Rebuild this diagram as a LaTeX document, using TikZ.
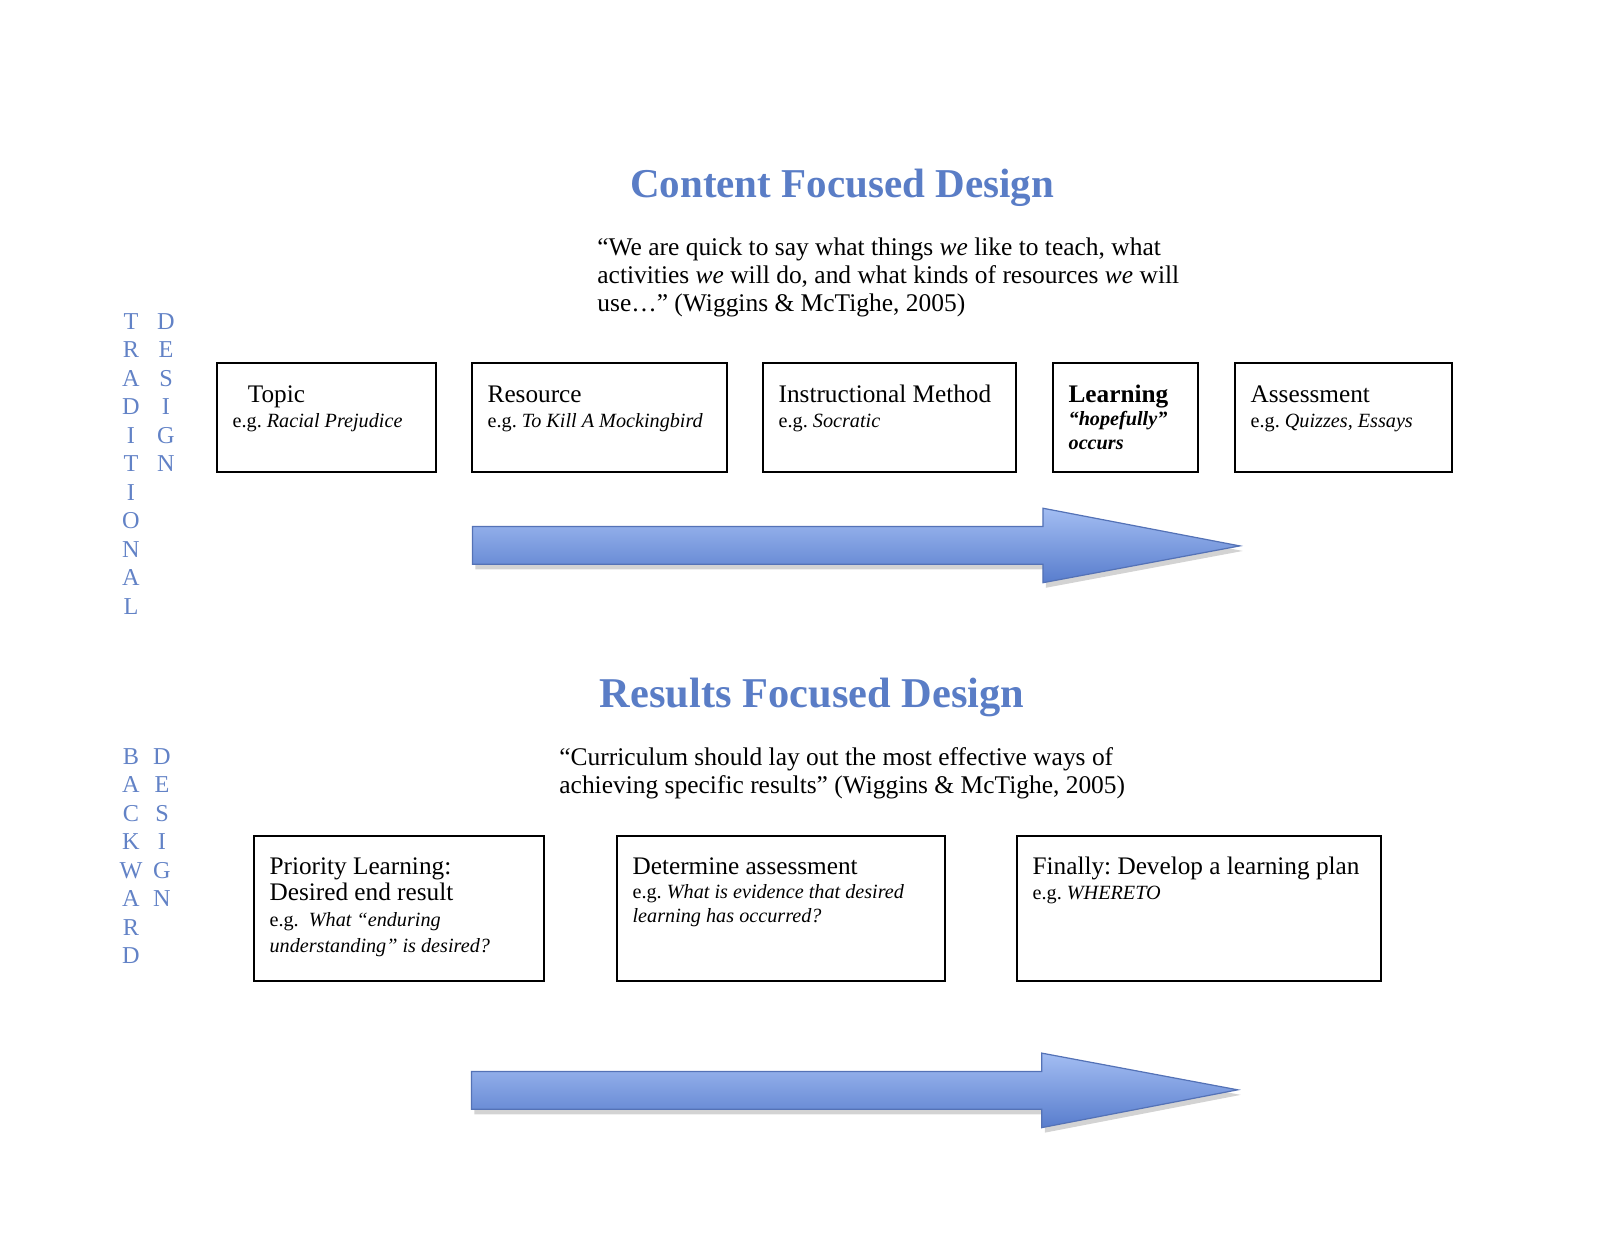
\documentclass[tikz,border=0pt]{standalone}
\usepackage{fontspec}
\setmainfont{Liberation Serif}
\usetikzlibrary{positioning, shadows}
\definecolor{titleblue}{RGB}{90,125,198}
\definecolor{letterblue}{RGB}{98,130,198}
\definecolor{arrowtop}{RGB}{163,189,242}
\definecolor{arrowbottom}{RGB}{88,125,205}
\definecolor{arrowedge}{RGB}{84,114,182}
\newcommand{\tightspaces}{\spaceskip=0pt\relax\xspaceskip=0pt\relax\frenchspacing}

\begin{document}
\begin{tikzpicture}[
  x=0.495pt, y=-0.495pt,
  titlenode/.style={font=\fontsize{20.7}{24}\selectfont\bfseries, text=titleblue, inner sep=0pt, anchor=base},
  quotenode/.style={font=\fontsize{12.6}{14.1}\selectfont, anchor=base west, align=left, text width=330pt, inner sep=0pt, execute at begin node=\tightspaces},
  vletter/.style={font=\fontsize{12}{14}\selectfont, text=letterblue, anchor=base, inner sep=0pt},
  recbox/.style={draw, line width=0.9pt, inner sep=0pt},
  boxtext/.style={anchor=base west, align=left, text width=190pt, inner sep=0pt, execute at begin node=\tightspaces},
  bigarrow/.style={draw=arrowedge, line width=0.6pt, top color=arrowtop, bottom color=arrowbottom, drop shadow={shadow xshift=1.5pt, shadow yshift=-2.5pt, opacity=0.35}}
]
  \useasboundingbox (0,0) rectangle (1600,1236);

  \node[titlenode, font=\fontsize{20.3}{24}\selectfont\bfseries] (content-title) at (842,197) {Content Focused Design};
  \node[quotenode] (content-quote) at (597,255) {
    “We are quick to say what things \textit{we} like to teach, what\\
    activities \textit{we} will do, and what kinds of resources \textit{we} will\\
    use…” (Wiggins \& McTighe, 2005)
  };

  \foreach \ch [count=\i from 0] in {T,R,A,D,I,T,I,O,N,A,L}
    \node[vletter] (trad-\i) at (131,{329+28.5*\i}) {\ch};
  \foreach \ch [count=\i from 0] in {D,E,S,I,G,N}
    \node[vletter] (tdesign-\i) at (166,{329+28.5*\i}) {\ch};

  \node[recbox, minimum width=108.4pt, minimum height=54pt] (topic) at (326.5,417.5) {};
  \node[recbox, minimum width=126.2pt, minimum height=54pt] (resource) at (599.5,417.5) {};
  \node[recbox, minimum width=125.2pt, minimum height=54pt] (method) at (889.5,417.5) {};
  \node[recbox, minimum width=71.8pt, minimum height=54pt] (learning) at (1125.5,417.5) {};
  \node[recbox, minimum width=107.4pt, minimum height=54pt] (assessment) at (1343.5,417.5) {};

  \node[boxtext, font=\fontsize{12.5}{12.4}\selectfont] (topic-text) at ([shift={(8pt,-19.8pt)}]topic.north west) {
    \hspace*{7.5pt}Topic\\
    {\fontsize{10}{12.4}\selectfont e.g. \textit{Racial Prejudice}}
  };
  \node[boxtext, font=\fontsize{12.5}{12.4}\selectfont] (resource-text) at ([shift={(8pt,-19.8pt)}]resource.north west) {
    Resource\\
    {\fontsize{10}{12.4}\selectfont e.g. \textit{To Kill A Mockingbird}}
  };
  \node[boxtext, font=\fontsize{12.5}{12.4}\selectfont] (method-text) at ([shift={(8pt,-19.8pt)}]method.north west) {
    Instructional Method\\
    {\fontsize{10}{12.4}\selectfont e.g. \textit{Socratic}}
  };
  \node[boxtext, font=\fontsize{12.5}{11.8}\selectfont] (learning-text) at ([shift={(8pt,-19.8pt)}]learning.north west) {
    \textbf{Learning}\\
    {\fontsize{10}{11.8}\selectfont\bfseries\itshape “hopefully”}\\
    {\fontsize{10}{11.8}\selectfont\bfseries\itshape occurs}
  };
  \node[boxtext, font=\fontsize{12.5}{12.4}\selectfont] (assessment-text) at ([shift={(8pt,-19.8pt)}]assessment.north west) {
    Assessment\\
    {\fontsize{10}{12.4}\selectfont e.g. \textit{Quizzes, Essays}}
  };

  \path[bigarrow] (472.4,526.5) -- (1042.9,526.5) -- (1042.9,508.2) -- (1239.8,545.9)
    -- (1042.9,582.7) -- (1042.9,564.3) -- (472.4,564.3) -- cycle;

  \node[titlenode, font=\fontsize{21}{24}\selectfont\bfseries] (results-title) at (812,707) {Results Focused Design};
  \node[quotenode] (results-quote) at (559,765) {
    “Curriculum should lay out the most effective ways of\\
    achieving specific results” (Wiggins \& McTighe, 2005)
  };

  \foreach \ch [count=\i from 0] in {B,A,C,K,W,A,R,D}
    \node[vletter] (back-\i) at (131,{764+28.5*\i}) {\ch};
  \foreach \ch [count=\i from 0] in {D,E,S,I,G,N}
    \node[vletter] (bdesign-\i) at (162,{764+28.5*\i}) {\ch};

  \node[recbox, minimum width=143.6pt, minimum height=71.8pt] (priority) at (399,908.5) {};
  \node[recbox, minimum width=162.4pt, minimum height=71.8pt] (determine) at (781,908.5) {};
  \node[recbox, minimum width=180.2pt, minimum height=71.8pt] (plan) at (1199,908.5) {};

  \node[boxtext, font=\fontsize{12.5}{12.9}\selectfont] (priority-text) at ([shift={(8pt,-19.3pt)}]priority.north west) {
    Priority Learning:\\
    Desired end result\\
    {\fontsize{10}{12.9}\selectfont e.g.\ \ \textit{What “enduring}}\\
    {\fontsize{10}{12.9}\selectfont\itshape understanding” is desired?}
  };
  \node[boxtext, font=\fontsize{12.5}{12}\selectfont] (determine-text) at ([shift={(8pt,-19.3pt)}]determine.north west) {
    Determine assessment\\
    {\fontsize{10}{12}\selectfont e.g. \textit{What is evidence that desired}}\\
    {\fontsize{10}{12}\selectfont\itshape learning has occurred?}
  };
  \node[boxtext, font=\fontsize{12.5}{12.4}\selectfont] (plan-text) at ([shift={(8pt,-19.3pt)}]plan.north west) {
    Finally: Develop a learning plan\\
    {\fontsize{10}{12.4}\selectfont e.g. \textit{WHERETO}}
  };

  \path[bigarrow] (471.4,1071.4) -- (1041.8,1071.4) -- (1041.8,1053.1) -- (1237.7,1089.8)
    -- (1041.8,1127.6) -- (1041.8,1109.2) -- (471.4,1109.2) -- cycle;
\end{tikzpicture}
\end{document}
